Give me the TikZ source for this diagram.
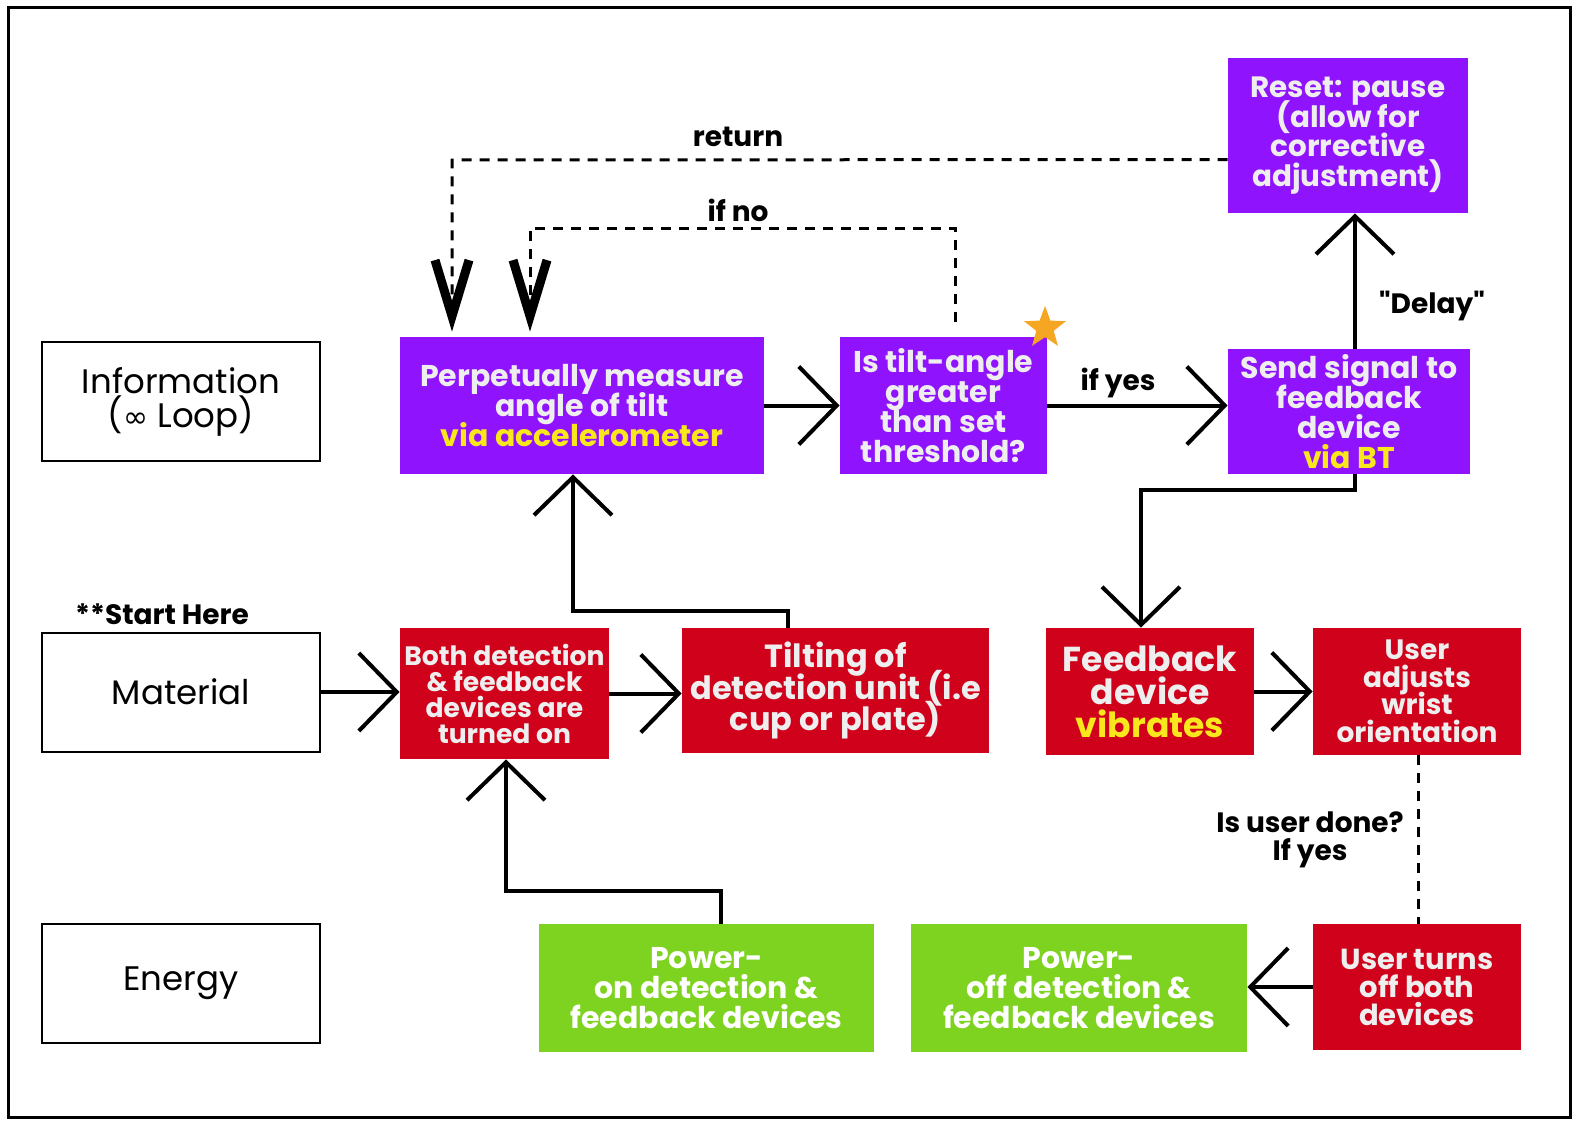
\documentclass[tikz,border=0pt]{standalone}
\usepackage{fontspec}
\setmainfont{Poppins}
\newfontfamily\dejavu{DejaVu Sans}
\usepackage{xcolor}
\usetikzlibrary{arrows.meta}
\usetikzlibrary{shapes.geometric}
\definecolor{vio}{HTML}{9013FE}
\definecolor{crim}{HTML}{D0021B}
\definecolor{grn}{HTML}{7ED321}
\definecolor{yel}{HTML}{F8E71C}
\definecolor{orng}{HTML}{F5A623}
\definecolor{txt}{HTML}{EEEEEE}
\tikzset{
  box/.style={rectangle, align=center, inner sep=1pt, text=txt, execute at begin node={\lineskiplimit=-20pt\lineskip=0pt}},
  vbox/.style={box, fill=vio},
  rbox/.style={box, fill=crim},
  gbox/.style={box, fill=grn, text=white},
  lbox/.style={rectangle, draw, line width=1pt, align=center, minimum width=139pt, minimum height=59.5pt, font=\fontsize{17}{17}\selectfont},
  arr/.style={line width=2pt, -{Straight Barb[length=19pt,width=39pt]}},
  dashln/.style={line width=1.5pt, dash pattern=on 5pt off 4pt},
  dasharr/.style={dashln, -{Straight Barb[length=28pt,width=17pt,line width=4.5pt 0]}},
  lbl/.style={font=\bfseries\fontsize{14}{14}\selectfont, align=center}
}
\begin{document}
\begin{tikzpicture}[x=0.5pt,y=-0.5pt]
\useasboundingbox (0,0) rectangle (1578,1124);
\draw [line width=1.5pt] (8,7) rectangle (1570,1117);
% row labels
\node[lbox] (info) at (181,401.5) {Information\\({\dejavu\fontsize{15}{17}\selectfont ∞} Loop)};
\node[lbox] (material) at (181,692) {Material};
\node[lbox] (energy) at (181,983.5) {Energy};
\node[lbl] (start) at (162,614) {**Start Here};
% information row
\node[vbox, minimum width=182pt, minimum height=68.5pt, font=\bfseries\fontsize{15}{15}\selectfont] (measure) at (582,405.5) {Perpetually measure\\angle of tilt\\\textcolor{yel}{via accelerometer}};
\node[vbox, minimum width=103.5pt, minimum height=68.5pt, font=\bfseries\fontsize{15}{15}\selectfont] (thresh) at (943.5,405.5) {Is tilt-angle\\greater\\than set\\threshold?};
\node[star, star points=5, star point ratio=2.4, fill=orng, minimum size=22pt, inner sep=0pt] (flag) at (1045,328) {};
\node[vbox, minimum width=120pt, minimum height=77.5pt, font=\bfseries\fontsize{14.7}{14.75}\selectfont] (reset) at (1348,135.5) {Reset: pause\\(allow for\\corrective\\adjustment)};
\node[vbox, minimum width=121pt, minimum height=62.5pt, font=\bfseries\fontsize{15}{15}\selectfont] (signal) at (1349,411.5) {Send signal to\\feedback\\device\\\textcolor{yel}{via BT}};
% material row
\node[rbox, minimum width=104.5pt, minimum height=65.5pt, font=\bfseries\fontsize{13.3}{13}\selectfont] (turnon) at (504.5,693.5) {Both detection\\\& feedback\\devices are\\turned on};
\node[rbox, minimum width=153.5pt, minimum height=62.5pt, font=\bfseries\fontsize{16}{15.75}\selectfont] (tilting) at (835.5,690.5) {Tilting of\\detection unit (i.e\\cup or plate)};
\node[rbox, minimum width=104pt, minimum height=63.5pt, font=\bfseries\fontsize{17.3}{16.5}\selectfont] (vibrates) at (1150,691.5) {Feedback\\device\\\textcolor{yel}{vibrates}};
\node[rbox, minimum width=104pt, minimum height=63.5pt, font=\bfseries\fontsize{14}{13.75}\selectfont] (adjusts) at (1417,691.5) {User\\adjusts\\wrist\\orientation};
% energy row
\node[gbox, minimum width=167.5pt, minimum height=64pt, font=\bfseries\fontsize{15}{15}\selectfont] (poweron) at (706.5,988) {Power-\\on detection \&\\feedback devices};
\node[gbox, minimum width=168pt, minimum height=64pt, font=\bfseries\fontsize{15}{15}\selectfont] (poweroff) at (1079,988) {Power-\\off detection \&\\feedback devices};
\node[rbox, minimum width=104pt, minimum height=63pt, font=\bfseries\fontsize{14.5}{14}\selectfont] (turnoff) at (1417,987) {User turns\\off both\\devices};
% connectors
\draw[arr] (material.east) -- (material.east -| turnon.west);
\draw[arr] (turnon.east) -- (turnon.east -| tilting.west);
\draw[arr] ([xshift=7pt]poweron.north) -- ++(0,16.5pt) -| ([xshift=0.75pt]turnon.south);
\draw[arr] ([xshift=-23.75pt]tilting.north) -- ++(0,8.5pt) -| ([xshift=-4.5pt]measure.south);
\draw[arr] (measure.east) -- (measure.east -| thresh.west);
\draw[arr] (thresh.east) -- (thresh.east -| signal.west);
\draw[arr] ([xshift=3pt]signal.north) -- ([xshift=3pt]signal.north |- reset.south);
\draw[arr] ([xshift=3pt]signal.south) -- ++(0,-8pt) -| ([xshift=-4.5pt]vibrates.north);
\draw[arr] (vibrates.east) -- (vibrates.east -| adjusts.west);
\draw[arr] (turnoff.west) -- (turnoff.west -| poweroff.east);
\draw[dashln] ([xshift=0.5pt]adjusts.south) -- ([xshift=0.5pt]turnoff.north);
\draw[dasharr] ([xshift=5.75pt,yshift=7.5pt]thresh.north) -- (955,228) -- (530,228) -- ([xshift=-26pt,yshift=2.5pt]measure.north);
\draw[dasharr] ([yshift=-12pt]reset.west) -- (452,160) -- ([xshift=-65pt,yshift=2.5pt]measure.north);
% connector labels
\node[lbl] (ret) at (738,137) {return};
\node[lbl] (ifno) at (738,210) {if no};
\node[lbl] (ifyes) at (1118,383) {if yes};
\node[lbl] (delay) at (1432,306) {\textquotedbl Delay\textquotedbl};
\node[lbl] (done) at (1310,840) {Is user done?\\If yes};
\end{tikzpicture}
\end{document}
